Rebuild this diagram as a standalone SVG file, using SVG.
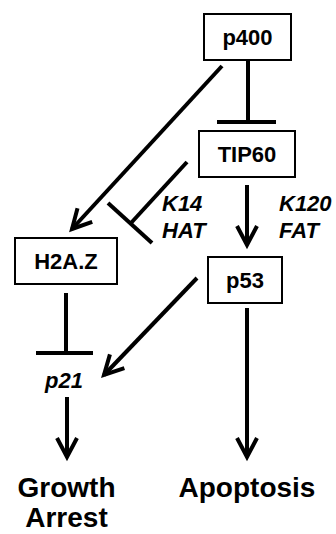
<svg xmlns="http://www.w3.org/2000/svg" width="336" height="534" viewBox="0 0 336 534">
<defs>
<marker id="arr" markerUnits="userSpaceOnUse" orient="auto" overflow="visible" refX="0" refY="0" markerWidth="30" markerHeight="30">
<path d="M-19,-10 L0,0 L-19,10" fill="none" stroke="#000" stroke-width="4" stroke-linejoin="miter"/>
</marker>
<style>
.box{fill:#fff;stroke:#000;stroke-width:2}
.lbl{font-family:"Liberation Sans",Arial,sans-serif;font-weight:bold;font-size:22px;text-anchor:middle;fill:#000}
.it{font-family:"Liberation Sans",Arial,sans-serif;font-weight:bold;font-style:italic;font-size:22px;fill:#000}
.big{font-family:"Liberation Sans",Arial,sans-serif;font-weight:bold;font-size:28px;text-anchor:middle;fill:#000}
.ln{stroke:#000;stroke-width:4;fill:none}
</style>
</defs>
<rect width="336" height="534" fill="#fff"/>
<g id="connectors">
<line class="ln" x1="248" y1="60" x2="248" y2="122"/>
<line class="ln" x1="217" y1="122" x2="276" y2="122"/>
<line class="ln" x1="222" y1="66" x2="72" y2="229" marker-end="url(#arr)"/>
<line class="ln" x1="187" y1="162" x2="131" y2="223"/>
<line class="ln" x1="108" y1="203" x2="152" y2="243"/>
<line class="ln" x1="247" y1="185" x2="247" y2="245" marker-end="url(#arr)"/>
<line class="ln" x1="66" y1="293" x2="66" y2="353"/>
<line class="ln" x1="36" y1="353" x2="93" y2="353"/>
<line class="ln" x1="197" y1="278" x2="104" y2="375" marker-end="url(#arr)"/>
<line class="ln" x1="67" y1="397" x2="67" y2="457" marker-end="url(#arr)"/>
<line class="ln" x1="247" y1="308" x2="247" y2="457" marker-end="url(#arr)"/>
</g>
<g id="p400"><rect class="box" x="204" y="14" width="87" height="46"/><text class="lbl" x="247.5" y="45">p400</text></g>
<g id="TIP60"><rect class="box" x="199" y="131" width="96" height="46"/><text class="lbl" x="247" y="162">TIP60</text></g>
<g id="H2AZ"><rect class="box" x="15" y="238" width="102" height="46"/><text class="lbl" x="66" y="269">H2A.Z</text></g>
<g id="p53"><rect class="box" x="208" y="257" width="74" height="46"/><text class="lbl" x="245" y="288">p53</text></g>
<g id="K14HAT"><text class="it" x="162" y="211">K14</text><text class="it" x="162" y="238">HAT</text></g>
<g id="K120FAT"><text class="it" x="279" y="211">K120</text><text class="it" x="279" y="238">FAT</text></g>
<g id="p21"><text class="it" x="64" y="388" font-size="20" text-anchor="middle">p21</text></g>
<g id="GrowthArrest"><text class="big" x="66.5" y="497">Growth</text><text class="big" x="66.5" y="527">Arrest</text></g>
<g id="Apoptosis"><text class="big" x="247" y="497">Apoptosis</text></g>
</svg>
